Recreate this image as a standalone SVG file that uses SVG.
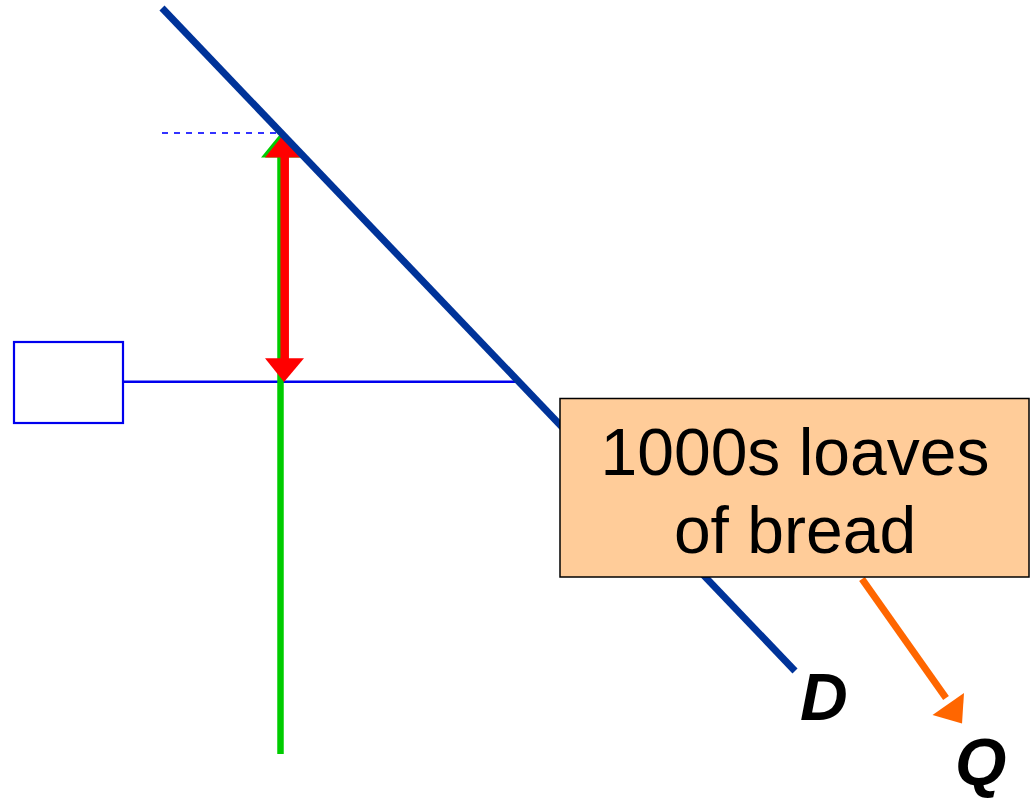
<svg xmlns="http://www.w3.org/2000/svg" width="1036" height="800" viewBox="0 0 1036 800">
<style>
.lbl{font-family:"Liberation Sans",Arial,sans-serif;}
.axis{font-family:"Liberation Sans",Arial,sans-serif;font-weight:bold;font-style:italic;font-size:66px;fill:#000;}
</style>
<rect width="1036" height="800" fill="#fff"/>
<g id="connectors">
  <line x1="162" y1="133" x2="283" y2="133" stroke="#3333ff" stroke-width="2" stroke-dasharray="6,6"/>
  <line x1="124" y1="381.7" x2="517" y2="381.7" stroke="#0000ee" stroke-width="2.5"/>
  <g id="green-axis">
    <line x1="280.5" y1="150" x2="280.5" y2="754" stroke="#00cc00" stroke-width="6.5"/>
    <polygon points="281,133 261,157.5 300,157.5" fill="#00cc00"/>
  </g>
  <g id="red-arrow">
    <line x1="284.7" y1="152" x2="284.7" y2="362" stroke="#ff0000" stroke-width="8.5"/>
    <polygon points="284.5,133 265,157.5 305,157.5" fill="#ff0000"/>
    <polygon points="284,382 265,358.3 304,358.3" fill="#ff0000"/>
  </g>
  <line id="demand" x1="162" y1="8" x2="795" y2="671" stroke="#003399" stroke-width="7"/>
  <g id="orange-arrow">
    <line x1="862" y1="579" x2="946" y2="698" stroke="#ff6600" stroke-width="7"/>
    <polygon points="962,723.5 932.5,715 964,693" fill="#ff6600"/>
  </g>
</g>
<g id="price-box">
  <rect x="14" y="342" width="109" height="81" fill="#fff" stroke="#0000ee" stroke-width="2.2"/>
</g>
<g id="quantity-box">
  <rect x="560" y="398.5" width="469" height="178.5" fill="#ffcc99" stroke="#000" stroke-width="1.5"/>
  <text class="lbl" x="795" y="475" font-size="66" text-anchor="middle">1000s loaves</text>
  <text class="lbl" x="795" y="553" font-size="66" text-anchor="middle">of bread</text>
</g>
<g id="label-D"><text class="axis" x="800" y="720">D</text></g>
<g id="label-Q"><text class="axis" x="955" y="785">Q</text></g>
</svg>
